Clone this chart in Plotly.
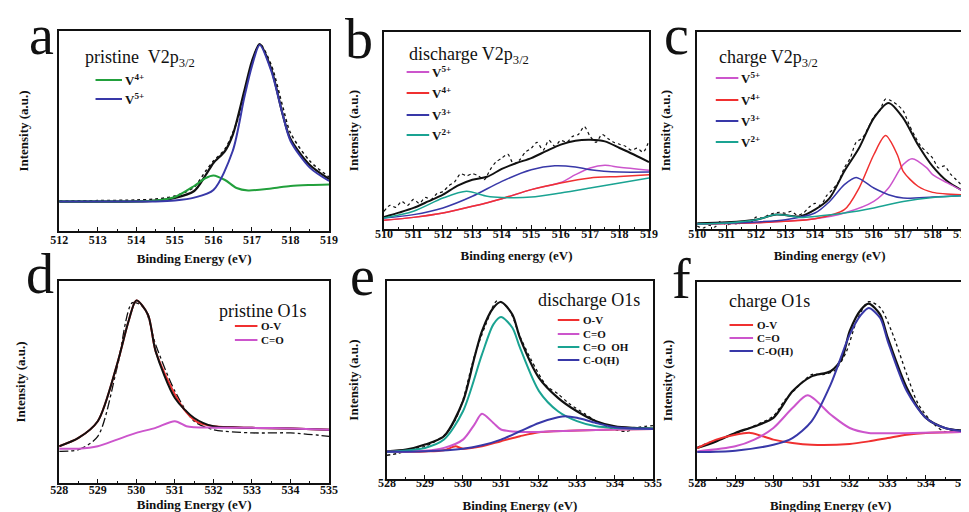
import plotly.graph_objects as go

W, H = 969, 512
SERIF = "Liberation Serif"

# ---------------- DATA (intensity in a.u. 0-100) ----------------
# Panel a: pristine V2p3/2
a_raw_x = [512, 513, 514, 514.5, 515, 515.5, 515.8, 516, 516.3, 516.6, 516.8, 517, 517.2, 517.5, 517.8, 518, 518.5, 519]
a_raw_y = [15, 15.2, 15.5, 16, 17.5, 22, 30, 35, 41, 54, 68, 84, 93.5, 83, 62, 49, 35, 27]
a_fit_x = [512, 513, 514, 514.5, 515, 515.5, 515.8, 516, 516.3, 516.5, 516.8, 517, 517.2, 517.5, 517.8, 518, 518.5, 519]
a_fit_y = [14.7, 14.7, 14.8, 15.2, 16.5, 20, 28, 34, 40, 48, 70, 85, 93.5, 81, 58, 46, 33, 26]
a_v4_x = [512, 513, 514, 514.5, 515, 515.5, 515.8, 516, 516.3, 516.6, 516.9, 517.5, 518, 518.5, 519]
a_v4_y = [14.7, 14.7, 14.8, 15.2, 17, 22.5, 26.5, 27.8, 25.5, 21.5, 20.3, 21.3, 22.5, 23, 23.3]
a_v5_x = [512, 513, 514, 514.5, 515, 515.5, 516, 516.5, 516.8, 517, 517.2, 517.5, 517.8, 518, 518.5, 519]
a_v5_y = [14.7, 14.7, 14.7, 14.8, 15.3, 16.7, 20.5, 40, 66.7, 82.5, 93, 80, 58, 45, 31.7, 25]

# Panel b: discharge V2p3/2
b_raw_x = [510.0, 510.2, 510.4, 510.6, 510.8, 511.0, 511.2, 511.4, 511.6, 511.8, 512.0, 512.2, 512.4, 512.6,
           512.8, 513.0, 513.2, 513.4, 513.6, 513.8, 514.0, 514.2, 514.4, 514.6, 514.8, 515.0, 515.2, 515.4,
           515.6, 515.8, 516.0, 516.2, 516.4, 516.6, 516.8, 517.0, 517.2, 517.4, 517.6, 517.8, 518.0, 518.2,
           518.4, 518.6, 518.8, 519.0]
b_raw_y = [9, 12, 11, 14, 12, 15, 13, 16, 15, 18, 19, 22, 24, 28, 27, 28, 27, 25, 30, 34, 36, 38, 33, 35, 39, 41,
           44, 40, 45, 42, 45, 44, 47, 48, 52, 47, 44, 48, 46, 44, 43, 42, 40, 41, 39, 45]
b_fit_x = [510, 510.5, 511, 511.5, 512, 512.5, 513, 513.5, 514, 514.5, 515, 515.5, 516, 516.5, 517, 517.5, 518, 518.5, 519]
b_fit_y = [6.1, 8.3, 10.7, 14, 17.4, 22, 25, 26.5, 30.5, 33.5, 36, 39.5, 42.8, 44.8, 45.3, 44.5, 41.1, 37.7, 34]
b_v5_x = [510, 511, 512, 513, 514, 515, 516, 516.5, 517, 517.5, 518, 519]
b_v5_y = [4.4, 5.9, 8.1, 11.5, 15.4, 20, 23.6, 27.6, 31, 32.3, 31.3, 29.8]
b_v4_x = [510, 511, 512, 513, 514, 515, 516, 517, 518, 519]
b_v4_y = [4.4, 5.9, 8.1, 11.5, 15.4, 20, 23.4, 25.9, 26.7, 27.6]
b_v3_x = [510, 511, 512, 513, 514, 515, 515.8, 516.5, 517, 518, 519]
b_v3_y = [5.6, 7.3, 10.7, 16.6, 24.2, 30.1, 32.1, 31.5, 30.1, 28.9, 28.9]
b_v2_x = [510, 511, 512, 512.8, 513.5, 514, 515, 516, 517, 518, 519]
b_v2_y = [5.6, 9, 15.7, 19.1, 16.6, 16, 16.2, 18.3, 20.8, 23.4, 25.9]

# Panel c: charge V2p3/2
c_raw_x = b_raw_x
c_raw_y = [1.5, 0.5, 2, 1, 4, 2, 3, 2.5, 4, 3, 6, 5.5, 7, 8, 8.5, 8, 9, 7, 8, 11, 13, 12, 17, 20, 24, 31,
           36, 44, 46, 51, 57, 60, 66, 65, 63, 60, 53, 47, 42, 39, 36, 31, 32, 28, 25, 22]
c_fit_x = [510, 511, 512, 512.7, 513.5, 514, 514.5, 515, 515.5, 516, 516.5, 517, 517.5, 518, 518.5, 519]
c_fit_y = [2.9, 3.4, 4.7, 7.3, 6.4, 9.8, 15.7, 29.3, 41.1, 56.3, 64, 56.3, 42.8, 31.8, 24.2, 19.6]
c_v5_x = [510, 512, 514, 515, 516, 516.5, 517, 517.3, 517.8, 518, 518.5, 519]
c_v5_y = [2.5, 3.2, 5.2, 8.1, 14, 20.8, 32.7, 35.7, 31, 27.6, 23.4, 19.5]
c_v4_x = [510, 512, 513, 514, 515, 515.5, 516, 516.4, 516.8, 517, 517.5, 518, 519]
c_v4_y = [2.5, 3.2, 3.9, 5.2, 9.8, 20.8, 37.7, 47.4, 37.7, 29.3, 21.7, 18.6, 17.4]
c_v3_x = [510, 512, 513, 514, 514.5, 515, 515.4, 516, 516.5, 517, 518, 519]
c_v3_y = [2.5, 3.6, 4.7, 8.1, 14, 22.5, 26.2, 20.8, 17.4, 15.7, 16.2, 16.9]
c_v2_x = [510, 511, 512, 512.7, 513.5, 514, 515, 516, 517, 518, 519]
c_v2_y = [2.5, 3, 4.7, 7.3, 5.9, 6.4, 8.1, 10.7, 14, 16, 16.9]

# Panel d: pristine O1s
d_raw_x = [528, 528.5, 529, 529.5, 529.9, 530.2, 530.5, 531, 531.5, 532, 533, 534, 535]
d_raw_y = [15.7, 16.5, 23.1, 57, 89.3, 86.8, 68.6, 45.5, 30.6, 26.4, 24.8, 24.8, 23.1]
d_fit_x = [528, 528.5, 529, 529.5, 529.8, 530, 530.3, 530.5, 531, 531.5, 532, 532.5, 533, 534, 535]
d_fit_y = [18.2, 22.3, 30.6, 58.7, 80.2, 90.4, 83.5, 65.3, 42.1, 32.2, 28.1, 27.6, 27.3, 27, 26.4]
d_ov_x = [528, 528.5, 529, 529.5, 529.8, 530, 530.3, 530.5, 531, 531.3, 531.6, 532, 532.5, 533, 534, 535]
d_ov_y = [18.2, 22.3, 30.6, 58.7, 80.2, 90.4, 83.5, 65.3, 43.8, 35, 30, 28.1, 27.6, 27.3, 27, 26.4]
d_co_x = [528, 528.5, 529, 529.5, 530, 530.5, 531, 531.3, 531.5, 532, 533, 534, 535]
d_co_y = [17, 17, 18.2, 21.5, 24.8, 27.3, 30.6, 28.1, 27.6, 27.4, 27.3, 27, 26.4]

# Panel e: discharge O1s
e_raw_x = [528, 528.3, 528.6, 529, 529.5, 529.8, 530, 530.3, 530.6, 530.9, 531.2, 531.5, 531.8, 532.2, 532.5,
           532.8, 533.2, 533.6, 534, 534.3, 534.6, 535]
e_raw_y = [12, 13, 15, 16.5, 22, 30, 40, 62, 78, 90, 86, 72, 60, 47, 43, 38, 33, 28, 25, 24, 26, 27]
e_fit_x = [528, 528.5, 529, 529.5, 530, 530.3, 530.5, 530.8, 531, 531.3, 531.5, 532, 532.5, 533, 533.5, 534, 534.5, 535]
e_fit_y = [14, 14.8, 17.4, 21.6, 39.3, 61.2, 74.7, 86.5, 89.4, 83.1, 71.3, 51.1, 41, 34.2, 29.2, 26.6, 25.8, 25.5]
e_ov_x = [528, 529, 529.5, 529.8, 530, 530.5, 531, 531.5, 532, 533, 534, 535]
e_ov_y = [13.7, 13.9, 14.5, 16.5, 15.3, 16.5, 19.1, 21.6, 23.6, 24.5, 25, 25.3]
e_co_x = [528, 529, 529.5, 530, 530.3, 530.5, 530.8, 531, 531.5, 532, 533, 534, 535]
e_co_y = [13.7, 14.3, 15.7, 19.9, 27.5, 32.9, 28.3, 25, 23.8, 23.8, 24.5, 25, 25.3]
e_oh_x = [528, 529, 529.5, 530, 530.5, 530.8, 531, 531.3, 531.5, 532, 532.5, 533, 533.5, 534, 535]
e_oh_y = [13.7, 15.7, 19.9, 34.2, 62.9, 78.1, 81.8, 76.4, 66.3, 44.4, 34.2, 29.2, 26.6, 25.8, 25.5]
e_coh_x = [528, 529, 530, 530.5, 531, 531.5, 532, 532.5, 532.7, 533, 533.5, 534, 535]
e_coh_y = [13.7, 14, 15.3, 17, 19.9, 24.1, 28.3, 31.2, 31.7, 30.9, 28.3, 26.1, 25.3]

# Panel f: charge O1s
f_raw_x = [528, 528.3, 528.7, 529, 529.5, 530, 530.3, 530.6, 531, 531.3, 531.6, 531.9, 532.2, 532.5, 532.8,
           533.1, 533.5, 533.8, 534.2, 534.5, 534.8, 535]
f_raw_y = [16, 18.5, 21, 23, 27, 32, 40, 46, 53, 53, 55, 64, 81, 90, 87, 75, 53, 38, 28, 24, 25, 25]
f_fit_x = [528, 528.5, 529, 529.5, 530, 530.5, 531, 531.5, 531.8, 532, 532.3, 532.5, 532.8, 533, 533.5, 534, 534.5, 535]
f_fit_y = [15.7, 19.1, 23.4, 26.7, 31, 44.5, 52.1, 54.7, 61.4, 75, 86, 89, 83.4, 71.6, 46.2, 31, 25.9, 24.5]
f_ov_x = [528, 528.5, 529, 529.4, 530, 530.5, 531, 532, 532.5, 533, 533.5, 534, 535]
f_ov_y = [15.7, 20, 22.5, 23.4, 20, 18.3, 17.4, 17.8, 19.1, 20.8, 22.5, 23.4, 23.9]
f_co_x = [528, 529, 529.5, 530, 530.5, 530.9, 531.5, 532, 532.5, 533, 535]
f_co_y = [14, 16.6, 20, 25.9, 36, 42.5, 32.7, 25.9, 23.4, 23.2, 23.9]
f_coh_x = [528, 529, 530, 530.5, 531, 531.5, 532, 532.3, 532.5, 532.8, 533, 533.5, 534, 534.5, 535]
f_coh_y = [13.7, 14.4, 17.4, 20.8, 29.3, 47.9, 73.3, 83.4, 86.8, 81.7, 69.9, 44.5, 31, 25.9, 24.2]

# ---------------- STYLE ----------------
GREEN = "#22a03c"
BLUE = "#3838a8"
MAGENTA = "#cc55cc"
RED = "#f03030"
TEAL = "#1aa392"
BLACK = "#111111"


def px(x):
    return x / W


def py(y):
    return 1 - y / H


# panel boxes in pixels: left, right, top, bottom
boxes = {
    1: (43, 318, 23, 223),
    2: (374, 644, 24, 221),
    3: (693, 963, 24, 221),
    4: (43, 318, 273, 475),
    5: (377, 648, 273, 471),
    6: (693, 965, 274, 471),
}
xranges = {1: [512, 519], 2: [510, 519], 3: [510, 519], 4: [528, 535], 5: [528, 535], 6: [528, 535]}
xtitles = {1: "Binding Energy (eV)", 2: "Binding energy (eV)", 3: "Binding energy (eV)",
           4: "Binding Energy (eV)", 5: "Binding Energy (eV)", 6: "Bingding Energy (eV)"}
label_standoff = {1: -3, 2: -7, 3: -7, 4: -5, 5: -8, 6: -8}
xstandoff = {1: 8, 2: 11, 3: 11, 4: 0, 5: 12, 6: 12}
ystandoff = {1: 26, 2: 21, 3: 22, 4: 29, 5: 24, 6: 20}

fig = go.Figure()


def add(n, x, y, color, dash="solid", width=2.0):
    ax = "" if n == 1 else str(n)
    fig.add_trace(go.Scatter(x=x, y=y, mode="lines", xaxis="x" + ax, yaxis="y" + ax,
                             line=dict(color=color, width=width, dash=dash, shape="spline", smoothing=0.8),
                             showlegend=False, hoverinfo="skip"))


# a
add(1, a_raw_x, a_raw_y, BLACK, "dot", 1.5)
add(1, a_fit_x, a_fit_y, BLACK, "solid", 2.2)
add(1, a_v4_x, a_v4_y, GREEN)
add(1, a_v5_x, a_v5_y, BLUE)
# b
add(2, b_raw_x, b_raw_y, BLACK, "dot", 1.2)
add(2, b_fit_x, b_fit_y, BLACK, "solid", 2.0)
add(2, b_v5_x, b_v5_y, MAGENTA, width=1.5)
add(2, b_v4_x, b_v4_y, RED, width=1.5)
add(2, b_v3_x, b_v3_y, BLUE, width=1.5)
add(2, b_v2_x, b_v2_y, TEAL, width=1.5)
# c
add(3, c_raw_x, c_raw_y, BLACK, "dot", 1.2)
add(3, c_fit_x, c_fit_y, BLACK, "solid", 2.0)
add(3, c_v5_x, c_v5_y, MAGENTA, width=1.5)
add(3, c_v4_x, c_v4_y, RED, width=1.5)
add(3, c_v3_x, c_v3_y, BLUE, width=1.5)
add(3, c_v2_x, c_v2_y, TEAL, width=1.5)
# d
add(4, d_raw_x, d_raw_y, BLACK, "dashdot", 1.3)
add(4, d_ov_x, d_ov_y, RED)
add(4, d_fit_x, d_fit_y, BLACK, "solid", 2.0)
add(4, d_co_x, d_co_y, MAGENTA)
# e
add(5, e_raw_x, e_raw_y, BLACK, "dot", 1.3)
add(5, e_fit_x, e_fit_y, BLACK, "solid", 2.2)
add(5, e_ov_x, e_ov_y, RED)
add(5, e_co_x, e_co_y, MAGENTA)
add(5, e_oh_x, e_oh_y, TEAL)
add(5, e_coh_x, e_coh_y, BLUE)
# f
add(6, f_raw_x, f_raw_y, BLACK, "dot", 1.3)
add(6, f_fit_x, f_fit_y, BLACK, "solid", 2.2)
add(6, f_ov_x, f_ov_y, RED)
add(6, f_co_x, f_co_y, MAGENTA)
add(6, f_coh_x, f_coh_y, BLUE)

layout = dict(width=W, height=H, margin=dict(l=0, r=0, t=0, b=0),
              paper_bgcolor="white", plot_bgcolor="white", showlegend=False)

for n, (l, r, t, b) in boxes.items():
    ax = "" if n == 1 else str(n)
    layout["xaxis" + ax] = dict(
        domain=[px(l), px(r)], range=xranges[n], anchor="y" + ax,
        showline=True, linecolor="#111", linewidth=1.5, mirror=True,
        showgrid=False, zeroline=False,
        ticks="inside", ticklen=4, tickwidth=1.2, tickcolor="#111", dtick=1,
        minor=dict(dtick=0.5, ticks="inside", ticklen=2, tickcolor="#111"),
        tickfont=dict(family=SERIF, size=12, color="#111", weight="bold"),
        ticklabelstandoff=label_standoff[n],
        title=dict(text=xtitles[n], font=dict(family=SERIF, size=13, color="#111", weight="bold"),
                   standoff=xstandoff[n]),
    )
    layout["yaxis" + ax] = dict(
        domain=[py(b), py(t)], range=[0, 100], anchor="x" + ax,
        showline=True, linecolor="#111", linewidth=1.5, mirror=True,
        showgrid=False, zeroline=False, showticklabels=False, ticks="",
        title=dict(text="Intensity (a.u.)", font=dict(family=SERIF, size=13, color="#111", weight="bold"),
                   standoff=ystandoff[n]),
    )

annotations = []
shapes = []

# panel letters
for txt, x, y in [("a", 25, 27), ("b", 348, 31), ("c", 672, 27), ("d", 23, 266), ("e", 352, 268), ("f", 677, 271)]:
    annotations.append(dict(text=txt, x=px(x), y=py(y), xref="paper", yref="paper", showarrow=False,
                            xanchor="center", yanchor="middle",
                            font=dict(family=SERIF, size=56, color="#111")))

# panel titles
for txt, x, y in [("pristine  V2p<sub>3/2</sub>", 67, 50), ("discharge V2p<sub>3/2</sub>", 397, 47),
                  ("charge V2p<sub>3/2</sub>", 713, 50), ("pristine O1s", 204, 303),
                  ("discharge O1s", 529, 292), ("charge O1s", 723, 293)]:
    annotations.append(dict(text=txt, x=px(x), y=py(y), xref="paper", yref="paper", showarrow=False,
                            xanchor="left", yanchor="middle", align="left",
                            font=dict(family=SERIF, size=18, color="#111")))

# legends: (line x0, line x1, text x, font size, [(y, label, color)])
legends = [
    (80, 107, 108, 13, [(72, "V<sup>4+</sup>", GREEN), (91, "V<sup>5+</sup>", BLUE)]),
    (397, 420, 421, 13, [(64, "V<sup>5+</sup>", MAGENTA), (85, "V<sup>4+</sup>", RED),
                         (107, "V<sup>3+</sup>", BLUE), (127, "V<sup>2+</sup>", TEAL)]),
    (712, 735, 736, 13, [(70, "V<sup>5+</sup>", MAGENTA), (92, "V<sup>4+</sup>", RED),
                         (113, "V<sup>3+</sup>", BLUE), (134, "V<sup>2+</sup>", TEAL)]),
    (222, 245, 247, 11, [(318, "O-V", RED), (332, "C=O", MAGENTA)]),
    (551, 573, 575, 11, [(312, "O-V", RED), (326, "C=O", MAGENTA), (339, "C=O  OH", TEAL), (352, "C-O(H)", BLUE)]),
    (726, 750, 752, 11, [(317, "O-V", RED), (330, "C=O", MAGENTA), (343, "C-O(H)", BLUE)]),
]
for x0, x1, xt, fs, items in legends:
    for y, label, color in items:
        shapes.append(dict(type="line", xref="paper", yref="paper", x0=px(x0), x1=px(x1), y0=py(y), y1=py(y),
                           line=dict(color=color, width=2)))
        annotations.append(dict(text=label, x=px(xt), y=py(y), xref="paper", yref="paper", showarrow=False,
                                xanchor="left", yanchor="middle", align="left",
                                font=dict(family=SERIF, size=fs, color="#111", weight="bold")))

layout["annotations"] = annotations
layout["shapes"] = shapes
fig.update_layout(**layout)
fig.write_html("out.html")
